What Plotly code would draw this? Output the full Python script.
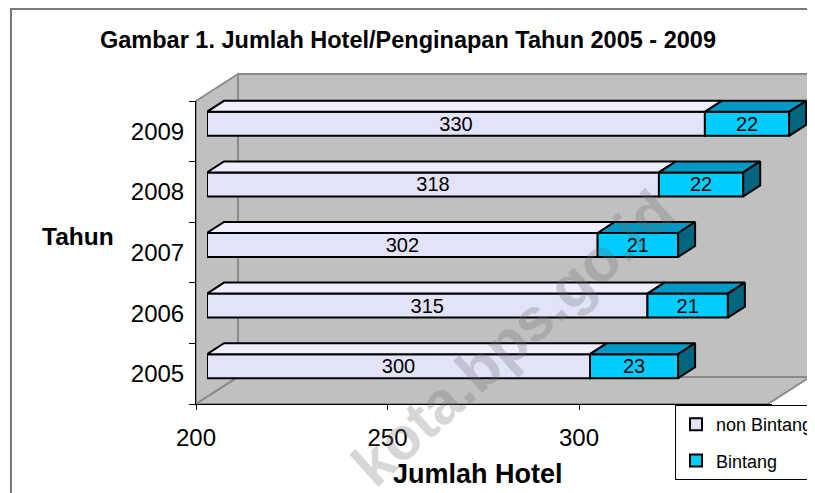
import plotly.graph_objects as go

# ---------------- data ----------------
years = ["2005", "2006", "2007", "2008", "2009"]
non_bintang = [300, 315, 302, 318, 330]
bintang = [23, 21, 21, 22, 22]
x_ticks = [200, 250, 300, 350]
x_ticklabels = ["200", "250", "300", ""]

# ---------------- geometry helpers ----------------
# targets are given in screen px; the page body adds an 8px offset
OFF = 8
W, H = 815, 493
SCR_L, SCR_T, SCR_B = 196, 60, 404          # plot area (screen px)
ML, MT = SCR_L - OFF, SCR_T - OFF
MB = H - (SCR_B - OFF)
MR = 0
PW, PH = W - ML - MR, H - MT - MB
AX_RIGHT, AX_TOP, AX_BOT = 772, 101, 404    # visible axes box (screen px)
PXU = 3.83                                  # px per hotel unit
PYU = (AX_BOT - AX_TOP) / 5.0               # px per category
SHIFT_X, SHIFT_Y = 11, 7.5                  # front-face offset of 3-D bars
DEPTH_X, DEPTH_Y = 17, 11                   # depth of bars in px
BW = 24 / PYU                               # bar thickness in category units


def xp(sx):
    return (sx - SCR_L) / PW


def yp(sy):
    return (SCR_B - sy) / PH


FONT = "Liberation Sans, Arial, sans-serif"
C_NB, C_NB_TOP = "#e2e2f8", "#eeeeff"
C_B, C_B_TOP, C_B_SIDE = "#00ccff", "#0099c6", "#006680"

fig = go.Figure()

pos = list(range(len(years)))

# empty trace so that the visible (unshifted) axes are drawn
fig.add_trace(go.Scatter(x=[], y=[], showlegend=False, hoverinfo="skip",
                         xaxis="x", yaxis="y"))

# front faces (bars)
fig.add_trace(go.Bar(
    y=pos, x=[v - 200 for v in non_bintang], base=[200] * len(pos),
    orientation="h", width=BW, name="non Bintang", legendgroup="a",
    marker=dict(color=C_NB, line=dict(color="black", width=2)),
    text=[str(v) for v in non_bintang], textposition="inside",
    insidetextanchor="middle", constraintext="none",
    textfont=dict(family=FONT, size=20, color="black"),
    xaxis="x2", yaxis="y2", hoverinfo="skip"))
fig.add_trace(go.Bar(
    y=pos, x=bintang, base=non_bintang,
    orientation="h", width=BW, name="Bintang", legendgroup="b",
    marker=dict(color=C_B, line=dict(color="black", width=2)),
    text=[str(v) for v in bintang], textposition="inside",
    insidetextanchor="middle", constraintext="none",
    textfont=dict(family=FONT, size=20, color="black"),
    xaxis="x2", yaxis="y2", hoverinfo="skip"))

# 3-D faces computed from the data
dx, dy = DEPTH_X / PXU, DEPTH_Y / PYU


def top_faces(starts, ends):
    xs, ys = [], []
    for i, (a, b) in enumerate(zip(starts, ends)):
        t = i + BW / 2
        xs += [a, a + dx, b + dx, b, a, None]
        ys += [t, t + dy, t + dy, t, t, None]
    return xs, ys


def side_faces(ends):
    xs, ys = [], []
    for i, e in enumerate(ends):
        lo, hi = i - BW / 2, i + BW / 2
        xs += [e, e + dx, e + dx, e, e, None]
        ys += [lo, lo + dy, hi + dy, hi, lo, None]
    return xs, ys


totals = [a + b for a, b in zip(non_bintang, bintang)]
for (xs, ys), col in [
    (top_faces([200] * len(pos), non_bintang), C_NB_TOP),
    (top_faces(non_bintang, totals), C_B_TOP),
    (side_faces(totals), C_B_SIDE),
]:
    fig.add_trace(go.Scatter(
        x=xs, y=ys, mode="lines", fill="toself", fillcolor=col,
        line=dict(color="black", width=2), showlegend=False,
        hoverinfo="skip", xaxis="x2", yaxis="y2"))

# ---------------- walls (decoration) ----------------
wall = "#c0c0c0"
edge = "#8a8a8a"
shapes = []


def poly(pts, fill, line_col, lw):
    path = "M " + " L ".join(f"{xp(a):.5f},{yp(b):.5f}" for a, b in pts) + " Z"
    return dict(type="path", path=path, xref="paper", yref="paper",
                fillcolor=fill, line=dict(color=line_col, width=lw), layer="below")


shapes.append(poly([(238, 74), (810, 74), (810, 377), (238, 377)], wall, edge, 2))
shapes.append(poly([(196, 101), (238, 74), (238, 377), (196, 404)], wall, edge, 2))
shapes.append(poly([(196, 404), (238, 377), (810, 377), (768, 404)], wall, edge, 2))
# outer chart border
shapes.append(dict(type="rect", xref="paper", yref="paper",
                   x0=xp(11), x1=xp(840), y0=yp(9), y1=yp(520),
                   line=dict(color="#7a7a7a", width=2), fillcolor="rgba(0,0,0,0)",
                   layer="below"))

annotations = [
    dict(text="<b>Gambar 1. Jumlah Hotel/Penginapan Tahun 2005 - 2009</b>",
         x=xp(408), y=yp(40), xref="paper", yref="paper", showarrow=False,
         xanchor="center", yanchor="middle",
         font=dict(family=FONT, size=23.5, color="black")),
    dict(text="<b>Tahun</b>", x=xp(78), y=yp(236), xref="paper", yref="paper",
         showarrow=False, xanchor="center", yanchor="middle",
         font=dict(family=FONT, size=24.5, color="black")),
    dict(text="<b>Jumlah Hotel</b>", x=xp(478), y=yp(474), xref="paper", yref="paper",
         showarrow=False, xanchor="center", yanchor="middle",
         font=dict(family=FONT, size=27, color="black")),
    dict(text="<b>kota.bps.go.id</b>", x=xp(512), y=yp(338), xref="paper", yref="paper",
         showarrow=False, xanchor="center", yanchor="middle", textangle=-42,
         font=dict(family=FONT, size=60, color="rgba(110,110,110,0.28)")),
]

fig.update_layout(
    width=W, height=H,
    margin=dict(l=ML, r=MR, t=MT, b=MB, pad=0, autoexpand=False),
    paper_bgcolor="white", plot_bgcolor="rgba(0,0,0,0)",
    barmode="overlay", showlegend=True,
    font=dict(family=FONT, color="black"),
    xaxis=dict(domain=[0, (AX_RIGHT - SCR_L) / PW],
               range=[200, 200 + (AX_RIGHT - SCR_L) / PXU],
               tickvals=x_ticks, ticktext=x_ticklabels, ticks="outside", ticklen=5,
               tickcolor="black", showline=True, linecolor="black", linewidth=1,
               showgrid=False, zeroline=False, tickfont=dict(size=24, family=FONT),
               ticklabelstandoff=7, fixedrange=True, anchor="y"),
    yaxis=dict(domain=[0, (AX_BOT - AX_TOP) / PH], range=[-0.5, 4.5],
               tickvals=pos, ticktext=years, ticks="", showline=True,
               linecolor="black", linewidth=1, showgrid=False, zeroline=False,
               tickfont=dict(size=24, family=FONT), ticklabelstandoff=6,
               minor=dict(tickvals=[p - 0.5 for p in pos] + [len(pos) - 0.5],
                          ticks="outside", ticklen=6, tickcolor="black", showgrid=False),
               fixedrange=True, anchor="x"),
    xaxis2=dict(domain=[SHIFT_X / PW, 1], anchor="y2",
                range=[200, 200 + (PW - SHIFT_X) / PXU], visible=False, fixedrange=True),
    yaxis2=dict(domain=[0, 1], anchor="x2",
                range=[-0.5 - SHIFT_Y / PYU, -0.5 - SHIFT_Y / PYU + PH / PYU],
                visible=False, fixedrange=True),
    legend=dict(x=xp(675), y=yp(405), xanchor="left", yanchor="top",
                bgcolor="white", bordercolor="black", borderwidth=1,
                font=dict(family=FONT, size=18, color="black"),
                traceorder="grouped", tracegroupgap=10, itemwidth=30),
    shapes=shapes, annotations=annotations,
)

fig.write_html("out.html")
